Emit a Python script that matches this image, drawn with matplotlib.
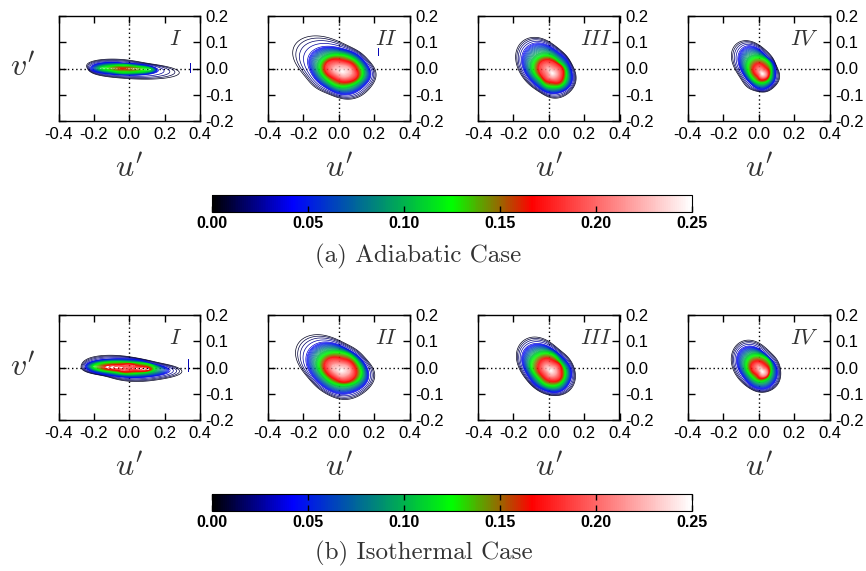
import numpy as np
import matplotlib
matplotlib.use("Agg")
import matplotlib.pyplot as plt
from matplotlib.cm import ScalarMappable
from matplotlib.colors import LinearSegmentedColormap, Normalize

plt.rcParams["font.family"] = ["Liberation Sans", "DejaVu Sans"]
plt.rcParams["axes.unicode_minus"] = False
plt.rcParams["mathtext.fontset"] = "cm"

W, H = 866, 571

# joint pdf outlines: (pdf level, [(u', v'), ...]), last entry is the peak
AD_I = [
    (0.004, [(-0.235, 0.014), (-0.202, 0.031), (-0.117, 0.036), (-0.013, 0.033), (0.090, 0.020), (0.203, 0.008), (0.288, -0.009),
             (0.279, -0.024), (0.203, -0.037), (0.109, -0.043), (-0.004, -0.037), (-0.117, -0.033), (-0.202, -0.018), (-0.235, -0.003)]),
    (0.035, [(-0.215, 0.008), (-0.173, 0.020), (-0.004, 0.018), (0.147, 0.001), (0.166, -0.011), (0.072, -0.024), (-0.079, -0.022), (-0.183, -0.014)]),
    (0.11, [(-0.173, 0.003), (-0.098, 0.011), (0.034, 0.008), (0.137, -0.005), (0.034, -0.015), (-0.098, -0.010)]),
    (0.14, [(-0.100, 0.003), (-0.030, 0.005), (0.060, -0.003), (-0.030, -0.007)]),
    (0.165, [(-0.040, 0.000)]),
]
AD_II = [
    (0.004, [(-0.271, 0.057), (-0.258, 0.093), (-0.183, 0.118), (-0.089, 0.127), (-0.004, 0.102), (0.081, 0.076), (0.166, 0.032),
             (0.213, -0.025), (0.175, -0.076), (0.081, -0.118), (-0.013, -0.108), (-0.117, -0.076), (-0.192, -0.032), (-0.230, 0.013)]),
    (0.035, [(-0.173, 0.038), (-0.136, 0.073), (-0.051, 0.083), (0.053, 0.068), (0.147, 0.025), (0.181, -0.025), (0.128, -0.076),
             (0.034, -0.102), (-0.060, -0.076), (-0.145, -0.025)]),
    (0.12, [(-0.107, 0.013), (-0.060, 0.047), (0.024, 0.051), (0.109, 0.019), (0.137, -0.019), (0.081, -0.060), (0.006, -0.068), (-0.070, -0.038)]),
    (0.167, [(-0.079, 0.013), (-0.041, 0.032), (0.034, 0.028), (0.100, -0.004), (0.105, -0.032), (0.043, -0.051), (-0.023, -0.038), (-0.070, -0.013)]),
    (0.21, [(-0.032, 0.006), (0.024, 0.013), (0.075, -0.013), (0.053, -0.032), (-0.004, -0.025)]),
    (0.25, [(0.020, -0.012)]),
]
AD_III = [
    (0.004, [(-0.188, 0.019), (-0.177, 0.076), (-0.117, 0.121), (-0.051, 0.118), (0.034, 0.083), (0.119, 0.025), (0.156, -0.032),
             (0.137, -0.076), (0.043, -0.115), (-0.032, -0.096), (-0.117, -0.051)]),
    (0.035, [(-0.154, 0.038), (-0.126, 0.083), (-0.051, 0.098), (0.043, 0.064), (0.119, 0.006), (0.137, -0.038), (0.081, -0.089),
             (0.006, -0.093), (-0.079, -0.057), (-0.136, -0.013)]),
    (0.12, [(-0.094, 0.000), (-0.070, 0.038), (-0.013, 0.051), (0.053, 0.025), (0.100, -0.025), (0.081, -0.060), (0.024, -0.070), (-0.051, -0.038)]),
    (0.167, [(-0.060, 0.006), (-0.023, 0.032), (0.034, 0.022), (0.081, -0.025), (0.062, -0.051), (0.015, -0.051), (-0.041, -0.025)]),
    (0.21, [(-0.013, 0.006), (0.024, 0.000), (0.053, -0.025), (0.024, -0.038), (-0.004, -0.019)]),
    (0.25, [(0.020, -0.018)]),
]
AD_IV = [
    (0.004, [(-0.154, 0.057), (-0.136, 0.096), (-0.051, 0.106), (0.024, 0.076), (0.090, 0.019), (0.119, -0.025), (0.081, -0.076),
             (0.024, -0.089), (-0.051, -0.076), (-0.107, -0.032), (-0.145, 0.013)]),
    (0.035, [(-0.117, 0.051), (-0.089, 0.083), (-0.032, 0.083), (0.043, 0.045), (0.094, -0.013), (0.072, -0.064), (0.006, -0.080),
             (-0.051, -0.051), (-0.098, -0.006)]),
    (0.12, [(-0.064, 0.006), (-0.041, 0.038), (0.015, 0.041), (0.068, -0.013), (0.053, -0.045), (0.006, -0.054), (-0.041, -0.032)]),
    (0.167, [(-0.032, 0.000), (-0.008, 0.019), (0.034, 0.006), (0.056, -0.025), (0.034, -0.041), (-0.008, -0.028)]),
    (0.21, [(0.000, -0.004), (0.024, -0.009), (0.043, -0.025), (0.021, -0.032), (0.006, -0.019)]),
    (0.25, [(0.020, -0.020)]),
]
ISO_I = [
    (0.004, [(-0.271, 0.008), (-0.239, 0.033), (-0.136, 0.048), (-0.013, 0.042), (0.109, 0.025), (0.222, 0.010), (0.307, -0.018),
             (0.260, -0.034), (0.147, -0.047), (0.034, -0.056), (-0.098, -0.038), (-0.211, -0.022), (-0.267, -0.009)]),
    (0.035, [(-0.252, 0.004), (-0.202, 0.025), (-0.041, 0.033), (0.128, 0.013), (0.232, -0.009), (0.185, -0.028), (0.034, -0.038),
             (-0.117, -0.028), (-0.220, -0.013)]),
    (0.12, [(-0.215, 0.001), (-0.154, 0.017), (-0.004, 0.017), (0.147, 0.000), (0.034, -0.022), (-0.098, -0.015)]),
    (0.167, [(-0.164, 0.001), (-0.079, 0.008), (0.053, 0.004), (0.128, -0.006), (0.024, -0.013), (-0.089, -0.006)]),
    (0.185, [(0.000, -0.002)]),
]
ISO_II = [
    (0.004, [(-0.239, 0.096), (-0.173, 0.124), (-0.089, 0.121), (0.006, 0.102), (0.109, 0.057), (0.194, -0.006), (0.194, -0.064),
             (0.109, -0.108), (0.024, -0.124), (-0.089, -0.089), (-0.173, -0.038), (-0.230, 0.019)]),
    (0.035, [(-0.183, 0.051), (-0.136, 0.089), (-0.041, 0.093), (0.072, 0.057), (0.156, 0.000), (0.169, -0.045), (0.100, -0.089),
             (0.015, -0.102), (-0.089, -0.070), (-0.164, -0.013)]),
    (0.12, [(-0.117, 0.019), (-0.060, 0.057), (0.015, 0.057), (0.109, 0.013), (0.132, -0.025), (0.081, -0.060), (0.006, -0.064), (-0.079, -0.032)]),
    (0.167, [(-0.083, 0.013), (-0.051, 0.034), (0.024, 0.032), (0.094, -0.006), (0.094, -0.032), (0.043, -0.054), (-0.023, -0.041), (-0.070, -0.013)]),
    (0.21, [(-0.041, 0.006), (0.015, 0.013), (0.068, -0.013), (0.043, -0.032), (-0.013, -0.025)]),
    (0.25, [(0.015, -0.012)]),
]
ISO_III = [
    (0.004, [(-0.183, 0.051), (-0.164, 0.096), (-0.089, 0.118), (-0.013, 0.102), (0.072, 0.057), (0.147, -0.013), (0.137, -0.076),
             (0.062, -0.106), (-0.013, -0.102), (-0.098, -0.064), (-0.164, -0.006)]),
    (0.035, [(-0.154, 0.045), (-0.107, 0.089), (-0.032, 0.085), (0.062, 0.045), (0.128, -0.019), (0.109, -0.070), (0.034, -0.096),
             (-0.051, -0.076), (-0.126, -0.019)]),
    (0.12, [(-0.102, 0.013), (-0.060, 0.051), (-0.004, 0.055), (0.062, 0.019), (0.094, -0.025), (0.062, -0.064), (0.006, -0.070), (-0.060, -0.038)]),
    (0.167, [(-0.060, 0.006), (-0.032, 0.032), (0.024, 0.025), (0.072, -0.019), (0.062, -0.045), (0.015, -0.051), (-0.032, -0.032)]),
    (0.21, [(-0.026, 0.006), (0.015, 0.006), (0.047, -0.022), (0.024, -0.034), (-0.008, -0.019)]),
    (0.25, [(0.012, -0.012)]),
]
ISO_IV = [
    (0.004, [(-0.154, 0.032), (-0.136, 0.083), (-0.079, 0.106), (-0.004, 0.093), (0.072, 0.051), (0.124, -0.013), (0.109, -0.064),
             (0.043, -0.093), (-0.023, -0.089), (-0.089, -0.057), (-0.145, -0.013)]),
    (0.035, [(-0.126, 0.038), (-0.098, 0.076), (-0.023, 0.076), (0.053, 0.038), (0.105, -0.019), (0.081, -0.064), (0.006, -0.083),
             (-0.060, -0.057), (-0.107, -0.013)]),
    (0.12, [(-0.073, 0.013), (-0.041, 0.045), (0.011, 0.045), (0.068, -0.006), (0.053, -0.038), (0.011, -0.051), (-0.041, -0.032)]),
    (0.167, [(-0.045, 0.006), (-0.013, 0.025), (0.030, 0.013), (0.056, -0.019), (0.034, -0.038), (-0.013, -0.025)]),
    (0.21, [(-0.008, 0.006), (0.024, -0.004), (0.047, -0.022), (0.024, -0.032), (0.006, -0.017)]),
    (0.25, [(0.020, -0.016)]),
]

# stray bits of contour outside the main blob: (u', v', colour level)
SPECKS_AD = {"I": [(0.343, 0.020, 0.03), (0.343, 0.006, 0.03), (0.343, -0.014, 0.03)],
             "II": [(0.222, 0.079, 0.03), (0.222, 0.065, 0.03), (0.222, 0.051, 0.03)]}
SPECKS_ISO = {"I": [(0.331, 0.033, 0.03), (0.331, 0.010, 0.03), (0.331, -0.013, 0.03)],
              "II": [(0.220, 0.083, 0.04)]}

NAMES = ["I", "II", "III", "IV"]
NAME_RIGHT = [0.875, 0.915, 0.95, 0.925]
AXES_X = [58.5, 268, 478, 688]
ROW_TOP = [16, 315]
BAR_TOP = [195, 494]
CAPTIONS = ["(a) Adiabatic Case", "(b) Isothermal Case"]
CAPTION_Y = [256, 553]
OUTER_LEVELS = [0.005, 0.011, 0.018, 0.026, 0.034]
MID_LEVELS = [0.04 + 0.005 * i for i in range(12)]
CONTOUR_LEVELS = OUTER_LEVELS + MID_LEVELS + [0.1 + 0.0035 * i for i in range(43)]
UTICKS = [-0.4, -0.2, 0.0, 0.2, 0.4]
VTICKS = [-0.2, -0.1, 0.0, 0.1, 0.2]
BAR_TICKS = [0.0, 0.05, 0.10, 0.15, 0.20, 0.25]
TEXT_GREY = "#333333"

pdf_cmap = LinearSegmentedColormap.from_list(
    "pdf", [(0, "black"), (1 / 6, "blue"), (1 / 2, "lime"), (2 / 3, "red"), (1, "white")])
norm = Normalize(0, 0.25)


def px_axes(fig, x0, y0, w, h):
    return fig.add_axes([x0 / W, 1 - (y0 + h) / H, w / W, h / H])


def ring_grid(rings, n=180, keep=5):
    # outlines -> curvilinear grid around the peak, rounded off with a low-pass in angle
    pu, pv = rings[-1][1][0]
    outer = np.array(rings[0][1])
    su, sv = np.ptp(outer[:, 0]) / 2, np.ptp(outer[:, 1]) / 2
    theta = np.linspace(0, 2 * np.pi, n, endpoint=False)
    radii, levels = [], []
    for level, pts in rings[:-1]:
        p = np.array(pts)
        du, dv = (p[:, 0] - pu) / su, (p[:, 1] - pv) / sv
        r = np.interp(theta, np.arctan2(dv, du), np.hypot(du, dv), period=2 * np.pi)
        spec = np.fft.rfft(r)
        spec[keep + 1:] = 0
        radii.append(np.fft.irfft(spec, n))
        levels.append(level)
    radii.append(np.zeros(n))
    levels.append(rings[-1][0])
    R = np.array(radii)
    R = np.column_stack([R, R[:, 0]])
    t = np.append(theta, 2 * np.pi)
    X = pu + su * R * np.cos(t)
    Y = pv + sv * R * np.sin(t)
    Z = np.repeat(np.array(levels)[:, None], n + 1, axis=1)
    return X, Y, Z


def draw_panel(ax, rings, idx, specks, first):
    name = NAMES[idx]
    ax.axhline(0, color="k", lw=1, ls=(0, (1, 2)), zorder=1)
    ax.axvline(0, color="k", lw=1, ls=(0, (1, 2)), zorder=1)
    X, Y, Z = ring_grid(rings)
    ax.contour(X, Y, Z, levels=CONTOUR_LEVELS, cmap=pdf_cmap, norm=norm, linewidths=0.5, zorder=2)
    if name in specks:
        sp = specks[name]
        ax.plot([s[0] for s in sp], [s[1] for s in sp], color=pdf_cmap(norm(sp[0][2])), lw=0.7, zorder=2)

    ax.set_xlim(-0.4, 0.4)
    ax.set_ylim(-0.2, 0.2)
    ax.set_xticks(UTICKS)
    ax.set_yticks(VTICKS)
    ax.set_xticklabels(["%.1f" % t for t in UTICKS])
    ax.set_yticklabels(["%.1f" % t for t in VTICKS])
    ax.tick_params(direction="in", length=5, width=1, top=True, bottom=True, left=True, right=True,
                   labelleft=False, labelright=True, labelsize=12, pad=4)
    for s in ax.spines.values():
        s.set_linewidth(1)
    ax.set_xlabel("$u'$", fontsize=23, labelpad=9, color=TEXT_GREY)
    if first:
        ax.text(-0.165, 0.5, "$v'$", fontsize=23, color=TEXT_GREY, transform=ax.transAxes, ha="right", va="center")
    ax.text(NAME_RIGHT[idx], 0.78, "$%s$" % name, fontsize=16, color=TEXT_GREY, transform=ax.transAxes, ha="right", va="center")


fig = plt.figure(figsize=(W / 100, H / 100), dpi=100)

rows = [[AD_I, AD_II, AD_III, AD_IV], [ISO_I, ISO_II, ISO_III, ISO_IV]]
specks = [SPECKS_AD, SPECKS_ISO]
for r, row in enumerate(rows):
    for c, rings in enumerate(row):
        ax = px_axes(fig, AXES_X[c], ROW_TOP[r], 141.5, 105)
        draw_panel(ax, rings, c, specks[r], c == 0)

    cax = px_axes(fig, 212, BAR_TOP[r], 480, 17)
    cb = fig.colorbar(ScalarMappable(norm=norm, cmap=pdf_cmap), cax=cax, orientation="horizontal")
    cb.set_ticks(BAR_TICKS)
    cb.set_ticklabels(["%.2f" % t for t in BAR_TICKS], fontweight="bold", fontsize=11.5)
    cax.tick_params(direction="in", length=4, width=1, top=True, bottom=True, pad=3)
    fig.text(315 / W, 1 - CAPTION_Y[r] / H, CAPTIONS[r], family="cmr10", fontsize=18,
             color=TEXT_GREY, ha="left", va="center")

fig.savefig("out.png", dpi=100)
